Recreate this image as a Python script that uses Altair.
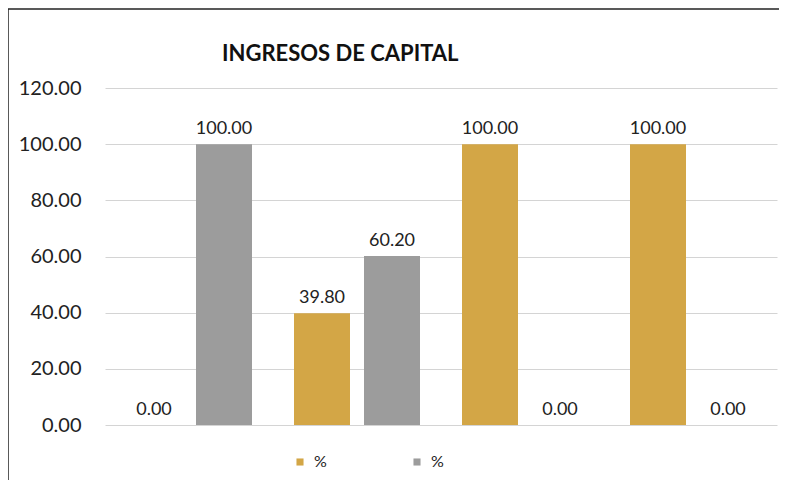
import altair as alt
import pandas as pd

groups = ["1", "2", "3", "4"]
series = ["%", "% "]  # both shown as "%" in the legend
gold_values = [0.00, 39.80, 100.00, 100.00]
gray_values = [100.00, 60.20, 0.00, 0.00]
y_ticks = [0, 20, 40, 60, 80, 100, 120]
title_text = "INGRESOS DE CAPITAL"

rows = []
for g, a, b in zip(groups, gold_values, gray_values):
    rows.append({"grupo": g, "serie": series[0], "valor": a})
    rows.append({"grupo": g, "serie": series[1], "valor": b})
df = pd.DataFrame(rows)

FONT = "Lato"
x_enc = alt.X("grupo:N", axis=None, sort=groups,
              scale=alt.Scale(paddingInner=0.25, paddingOuter=0.125))
xo_enc = alt.XOffset("serie:N", sort=series,
                     scale=alt.Scale(paddingInner=0.2, paddingOuter=0))
y_enc = alt.Y("valor:Q", title=None,
              scale=alt.Scale(domain=[0, 120], nice=False),
              axis=alt.Axis(values=y_ticks, format=".2f", domain=False, ticks=False,
                            labelPadding=24, labelFontSize=20, labelFont=FONT,
                            labelColor="#222222", gridColor="#d4d4d4", gridWidth=1))
color_enc = alt.Color("serie:N", sort=series,
                      scale=alt.Scale(domain=series, range=["#D3A646", "#9C9C9C"]),
                      legend=alt.Legend(title=None, orient="none", direction="horizontal",
                                        legendX=187, legendY=366, symbolType="square",
                                        symbolSize=50, symbolStrokeWidth=0,
                                        labelFont=FONT, labelFontSize=16,
                                        labelColor="#222222", columnPadding=82,
                                        labelOffset=6))

bars = alt.Chart(df).mark_bar().encode(x=x_enc, xOffset=xo_enc, y=y_enc, color=color_enc)
labels = alt.Chart(df).mark_text(baseline="middle", dy=-15, font=FONT, fontSize=18,
                                 color="#222222").encode(
    x=x_enc, xOffset=xo_enc, y="valor:Q", text=alt.Text("valor:Q", format=".2f"))

frame_df = pd.DataFrame({"k": [0]})
left_line = alt.Chart(frame_df).mark_rule(color="#222222", strokeWidth=1.5).encode(
    x=alt.value(-97), y=alt.value(-79), y2=alt.value(400))
top_line = alt.Chart(frame_df).mark_rule(color="#222222", strokeWidth=1.5).encode(
    x=alt.value(-97), x2=alt.value(674), y=alt.value(-79))

chart = alt.layer(bars, labels, left_line, top_line).properties(
    width=672, height=337,
    title=alt.TitleParams(title_text, anchor="start", frame="group", dx=117, offset=-58,
                          font=FONT, fontSize=22, fontWeight="bold", color="#111111"),
    autosize=alt.AutoSizeParams(type="none"),
    padding={"left": 97, "top": 80, "right": 2, "bottom": 55},
).configure(background="white").configure_view(stroke=None)

chart.save("out.html", embed_options={"renderer": "svg", "actions": False})
